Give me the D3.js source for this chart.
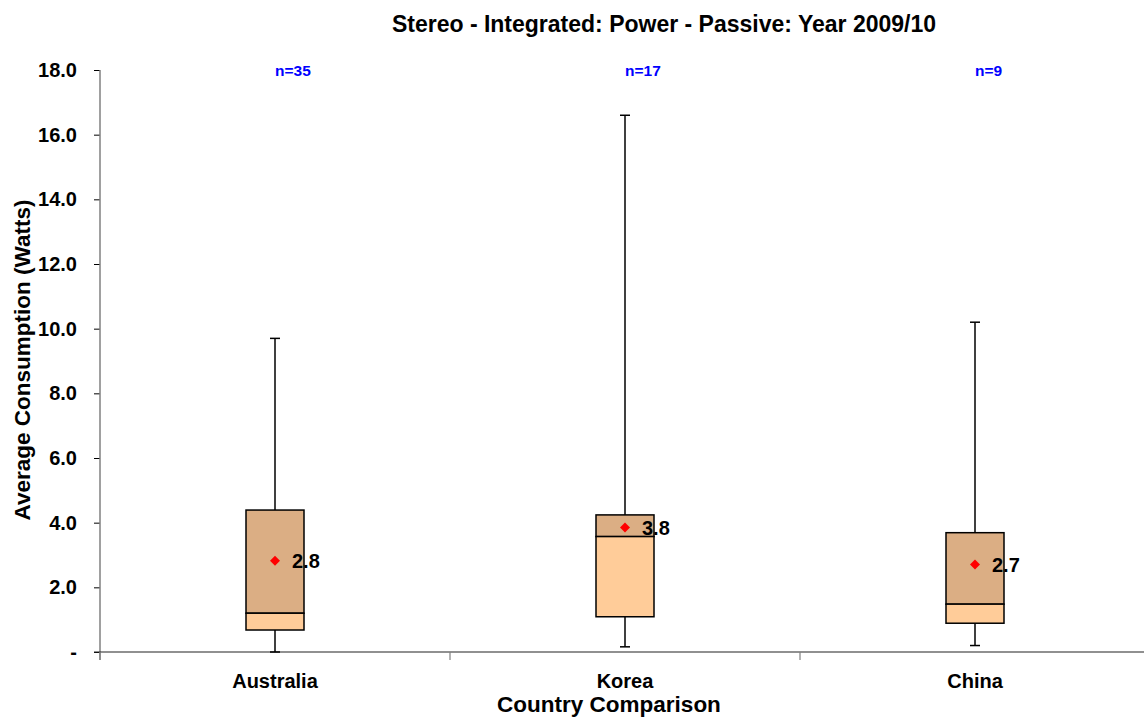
<!DOCTYPE html>
<html><head><meta charset="utf-8">
<script src="https://cdn.jsdelivr.net/npm/d3@7"></script>
<style>body{margin:0;background:#fff}svg{display:block}text{font-family:Arial,"Liberation Sans",sans-serif;font-weight:bold}</style>
</head><body><svg id="c" width="1144" height="718"></svg>
<script>
const categories = ["Australia","Korea","China"];
const counts = [35,17,9];
const whiskerMin = [0.0,0.16,0.2];
const q1 = [0.68,1.09,0.89];
const median = [1.2,3.57,1.48];
const q3 = [4.39,4.24,3.69];
const whiskerMax = [9.7,16.6,10.2];
const means = [2.82,3.85,2.71];
const meanLabels = ["2.8","3.8","2.7"];
const yTicks = [0,2,4,6,8,10,12,14,16,18];

(function(){
const svg = d3.select("#c");
const pL=100, pR=1150, pT=70, pB=652;
const x = d3.scaleBand().domain(categories).range([pL,pR]);
const y = d3.scaleLinear().domain([0,18]).range([pB,pT]);
const boxW = 58, capW = 9;

svg.append("text").attr("x",664).attr("y",32).attr("text-anchor","middle").attr("font-size",23).text("Stereo - Integrated: Power - Passive: Year 2009/10");

const ya = svg.append("g").attr("transform",`translate(${pL},0)`)
  .call(d3.axisLeft(y).tickValues(yTicks).tickSize(6).tickPadding(17).tickFormat(d=>d===0?"-":d3.format(".1f")(d)));
ya.select(".domain").remove();
ya.selectAll(".tick line").attr("stroke","#000");
ya.selectAll("text").attr("font-size",20).attr("font-family","Arial,'Liberation Sans',sans-serif").attr("fill","#000");
svg.append("line").attr("x1",pL).attr("x2",pL).attr("y1",pT).attr("y2",pB+8).attr("stroke","#808080").attr("stroke-width",1.5);

svg.append("line").attr("x1",pL-6).attr("x2",pR).attr("y1",pB).attr("y2",pB).attr("stroke","#222").attr("stroke-width",1.2);
const xt = [pL, ...categories.slice(1).map(c=>x(c))];
svg.selectAll(".xt").data(xt).join("line").attr("x1",d=>d).attr("x2",d=>d).attr("y1",pB).attr("y2",pB+8).attr("stroke","#808080").attr("stroke-width",1.2);
svg.selectAll(".xl").data(categories).join("text").attr("x",d=>x(d)+x.bandwidth()/2).attr("y",688).attr("text-anchor","middle").attr("font-size",20).text(d=>d);

svg.append("text").attr("x",609).attr("y",712).attr("text-anchor","middle").attr("font-size",22.5).text("Country Comparison");
svg.append("text").attr("transform","translate(30,360) rotate(-90)").attr("text-anchor","middle").attr("font-size",22.5).text("Average Consumption (Watts)");

const g = svg.selectAll(".box").data(categories).join("g").attr("transform",d=>`translate(${x(d)+x.bandwidth()/2},0)`);
g.append("line").attr("x1",0).attr("x2",0).attr("y1",(d,i)=>y(whiskerMax[i])).attr("y2",(d,i)=>y(q3[i])).attr("stroke","#000").attr("stroke-width",1.5);
g.append("line").attr("x1",0).attr("x2",0).attr("y1",(d,i)=>y(q1[i])).attr("y2",(d,i)=>y(whiskerMin[i])).attr("stroke","#000").attr("stroke-width",1.5);
g.append("line").attr("x1",-capW/2-0.5).attr("x2",capW/2+0.5).attr("y1",(d,i)=>y(whiskerMax[i])).attr("y2",(d,i)=>y(whiskerMax[i])).attr("stroke","#000").attr("stroke-width",1.5);
g.append("line").attr("x1",-capW/2-0.5).attr("x2",capW/2+0.5).attr("y1",(d,i)=>y(whiskerMin[i])).attr("y2",(d,i)=>y(whiskerMin[i])).attr("stroke","#000").attr("stroke-width",1.5);
g.append("rect").attr("x",-boxW/2).attr("width",boxW).attr("y",(d,i)=>y(q3[i])).attr("height",(d,i)=>y(median[i])-y(q3[i])).attr("fill","#DBAE84").attr("stroke","#000").attr("stroke-width",1.5);
g.append("rect").attr("x",-boxW/2).attr("width",boxW).attr("y",(d,i)=>y(median[i])).attr("height",(d,i)=>y(q1[i])-y(median[i])).attr("fill","#FFCC99").attr("stroke","#000").attr("stroke-width",1.5);
g.append("path").attr("d",d3.symbol().type(d3.symbolSquare).size(50)).attr("transform",(d,i)=>`translate(0,${y(means[i])}) rotate(45)`).attr("fill","#FF0000");
g.append("text").attr("x",17).attr("y",(d,i)=>y(means[i])+7.5).attr("font-size",20).text((d,i)=>meanLabels[i]);
g.append("text").attr("x",0).attr("y",76).attr("font-size",15.5).attr("fill","#0000FF").text((d,i)=>"n="+counts[i]);
})();
</script></body></html>
